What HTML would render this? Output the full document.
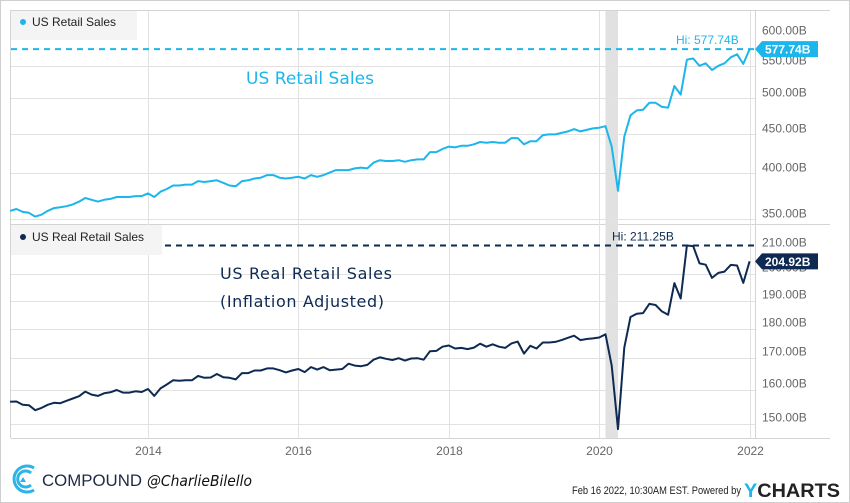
<!DOCTYPE html>
<html><head><meta charset="utf-8"><style>
html,body{margin:0;padding:0;background:#fff;}
svg{display:block;font-family:"Liberation Sans",sans-serif;}
</style></head><body>
<svg id="chart" width="850" height="503" viewBox="0 0 850 503">
<rect x="0.5" y="0.5" width="849" height="502" fill="#fff" stroke="#cfcfcf"/>
<g id="grid"></g>
<g id="series"></g>
<g id="labels"></g>
</svg>
<script>
const years = [2014, 2016, 2018, 2020, 2022];
const topTicks = [350, 400, 450, 500, 550, 600];
const botTicks = [150, 160, 170, 180, 190, 200, 210];
// Monthly values, Mar 2012 .. Jan 2022 (billions)
const retailSales = [358,360,357,356,352,354,358,361,362,363,365,368,372,370,368,370,371,373,373,373,374,374,377,373,379,382,386,386,387,387,391,390,391,392,389,386,385,391,392,394,395,398,398,395,394,395,396,394,398,396,
398,401,404,404,404,406,407,406,413,416,415,415,416,414,416,417,417,426,426,430,433,432,434,434,436,439,438,439,438,438,444,444,436,440,440,448,449,449,451,453,456,453,455,457,458,
460,433,380,446,475,482,483,493,493,487,486,518,505,560,562,550,554,543,550,554,564,569,553,577.74];
const realRetailSales = [156.4,156.5,155.5,155.4,153.9,154.6,155.5,156.1,156.0,156.7,157.4,158.1,159.5,158.6,158.2,159.0,159.3,160.0,159.2,159.2,159.6,159.4,160.3,158.2,160.5,161.7,163.0,162.9,163.0,163.0,164.4,163.8,163.9,165.0,164.0,163.8,163.3,165.3,165.3,166.1,166.1,166.8,166.8,166.2,165.5,166.1,166.6,165.6,167.2,166.4,
167.2,166.2,166.4,166.6,168.3,167.7,167.5,167.9,169.6,170.4,169.9,169.5,170.1,169.3,170.0,170.1,169.6,172.4,172.5,173.9,174.3,173.3,173.5,173.1,173.6,174.9,173.9,174.7,173.9,173.5,175.0,175.6,171.6,174.2,173.3,175.3,175.3,175.5,176.1,176.9,177.6,176.1,176.5,176.7,177.0,
178.1,167.7,148.4,173.6,184.1,185.3,185.5,188.8,188.4,186.1,184.9,196.5,190.8,211.25,211.0,204.1,203.6,198.5,200.4,200.9,203.5,203.3,196.6,204.92];
const topHi = 577.74, topLast = 577.74, botHi = 211.25, botLast = 204.92;

const NS = "http://www.w3.org/2000/svg";
const X0 = 11, X1 = 755, startYear = 2012 + 2/12;
function xOfIndex(i){ return xOfYear(startYear + i/12); }
function xOfYear(y){ return 148 + (y - 2014) * 75.2; }
function yTop(v){ return 98 - 338 * Math.log(v/500); }
function yBot(v){ return 390 - 520 * Math.log(v/160); }
function mk(parent, tag, attrs, text){
  const e = document.createElementNS(NS, tag);
  for (const k in attrs) e.setAttribute(k, attrs[k]);
  if (text !== undefined) e.textContent = text;
  document.getElementById(parent).appendChild(e);
  return e;
}
const CY = "#1cb6ec", NV = "#0e2a52", GR = "#e2e2e2";

let e;
e = mk("grid","line",{x1:X0,x2:830,y1:10.5,y2:10.5,stroke:"#d4d4d4"});


e = mk("grid","line",{x1:X0,x2:830,y1:224.5,y2:224.5,stroke:"#d4d4d4"});


e = mk("grid","line",{x1:X0,x2:830,y1:438.5,y2:438.5,stroke:"#d4d4d4"});


e = mk("grid","line",{x1:10.5,x2:10.5,y1:10,y2:438,stroke:"#d4d4d4"});


e = mk("grid","line",{x1:755.5,x2:755.5,y1:10,y2:438,stroke:"#d4d4d4"});



e = mk("grid","rect",{x:xOfYear(2020+1/12),y:11,width:xOfYear(2020+3/12)-xOfYear(2020+1/12),height:427,fill:"#e1e1e1"});



years.forEach(yr=>{
  const x = Math.round(xOfYear(yr))+0.5;
  const g = mk("grid","line",{x1:x,x2:x,y1:11,y2:438,stroke:GR});
  
  
  const t = mk("labels","text",{x:x,y:455,"text-anchor":"middle","font-size":12,fill:"#666"}, String(yr));
  
  
});
topTicks.forEach(v=>{
  const y = Math.round(yTop(v))+0.5;
  if (v < 600) {
    const g = mk("grid","line",{x1:X0,x2:X1,y1:y,y2:y,stroke:GR});
    
    
  }
  const t = mk("labels","text",{x:762,y:y-2,"font-size":12,fill:"#666"}, v.toFixed(2)+"B");
  
  
});
botTicks.forEach(v=>{
  const y = Math.round(yBot(v))+0.5;
  if (v < 210) {
    const g = mk("grid","line",{x1:X0,x2:X1,y1:y,y2:y,stroke:GR});
    
    
  }
  const t = mk("labels","text",{x:762,y:y-3,"font-size":12,fill:"#666"}, v.toFixed(2)+"B");
  
  
});

const yh1 = yTop(topHi), yh2 = yBot(botHi);
e = mk("series","line",{x1:X0,x2:X1,y1:yh1,y2:yh1,stroke:CY,"stroke-width":2,"stroke-dasharray":"6,5"});


e = mk("series","line",{x1:X0,x2:X1,y1:yh2,y2:yh2,stroke:NV,"stroke-width":2,"stroke-dasharray":"6,5"});



e = mk("series","polyline",{points:retailSales.map((v,i)=>xOfIndex(i).toFixed(1)+","+yTop(v).toFixed(1)).join(" "),fill:"none",stroke:CY,"stroke-width":2,"stroke-linejoin":"round"});


e = mk("series","polyline",{points:realRetailSales.map((v,i)=>xOfIndex(i).toFixed(1)+","+yBot(v).toFixed(1)).join(" "),fill:"none",stroke:NV,"stroke-width":2,"stroke-linejoin":"round"});



e = mk("labels","text",{x:676,y:yh1-5,"font-size":12,fill:CY},"Hi: "+topHi.toFixed(2)+"B");


e = mk("labels","text",{x:612,y:yh2-5,"font-size":12,fill:NV},"Hi: "+botHi.toFixed(2)+"B");



function badge(yc, color, txt, name){
  const b = mk("labels","path",{d:`M755 ${yc} L762 ${yc-8} L818 ${yc-8} L818 ${yc+8} L762 ${yc+8} Z`,fill:color});
  
  
  const t = mk("labels","text",{x:765,y:yc+4.5,"font-size":12,"font-weight":"bold",fill:"#fff"},txt);
  
  
}
badge(yTop(topLast), CY, topLast.toFixed(2)+"B", "top-last-value");
badge(yBot(botLast), NV, botLast.toFixed(2)+"B", "bottom-last-value");
</script>
<svg style="position:absolute;left:0;top:0" width="850" height="503">
  <g>
    <rect x="11" y="11" width="126" height="29" fill="#f4f4f4"/>
    <circle cx="23" cy="22" r="3" fill="#1cb6ec"/>
    <text x="32" y="26" font-family="Liberation Sans" font-size="12" fill="#222">US Retail Sales</text>
  </g>
  <g>
    <rect x="11" y="225" width="151" height="30" fill="#f4f4f4"/>
    <circle cx="23" cy="237" r="3" fill="#0e2a52"/>
    <text x="32" y="241" font-family="Liberation Sans" font-size="12" fill="#222">US Real Retail Sales</text>
  </g>
  <text x="246" y="84" font-family="DejaVu Sans" font-size="17" fill="#1cb6ec" textLength="128">US Retail Sales</text>
  <text x="220" y="279" font-family="DejaVu Sans" font-size="16" fill="#0e2a52" textLength="172">US Real Retail Sales</text>
  <text x="220" y="307" font-family="DejaVu Sans" font-size="16" fill="#0e2a52" textLength="164">(Inflation Adjusted)</text>
  <g>
    <path d="M34 468 A13 13 0 1 0 34 490" fill="none" stroke="#2cb3e8" stroke-width="3"/>
    <path d="M31 473 A8 8 0 1 0 31 485" fill="none" stroke="#2cb3e8" stroke-width="3"/>
    <path d="M20 482 L23 477 L26 482 Z" fill="#2cb3e8"/>
    <text x="42" y="486" font-family="Liberation Sans" font-size="17" fill="#1f2a44" textLength="100" lengthAdjust="spacingAndGlyphs">COMPOUND</text>
  </g>
  <text x="147" y="486" font-family="DejaVu Sans" font-style="italic" font-size="15" fill="#111" textLength="105" lengthAdjust="spacingAndGlyphs">@CharlieBilello</text>
  <text x="572" y="494" font-family="Liberation Sans" font-size="11" fill="#222" textLength="169" lengthAdjust="spacingAndGlyphs">Feb 16 2022, 10:30AM EST.  Powered by</text>
  <text x="744" y="497" font-family="Liberation Sans" font-size="19" font-weight="bold" fill="#222" textLength="96" lengthAdjust="spacingAndGlyphs"><tspan fill="#1cb6ec">Y</tspan>CHARTS</text>
</svg>
</body></html>
